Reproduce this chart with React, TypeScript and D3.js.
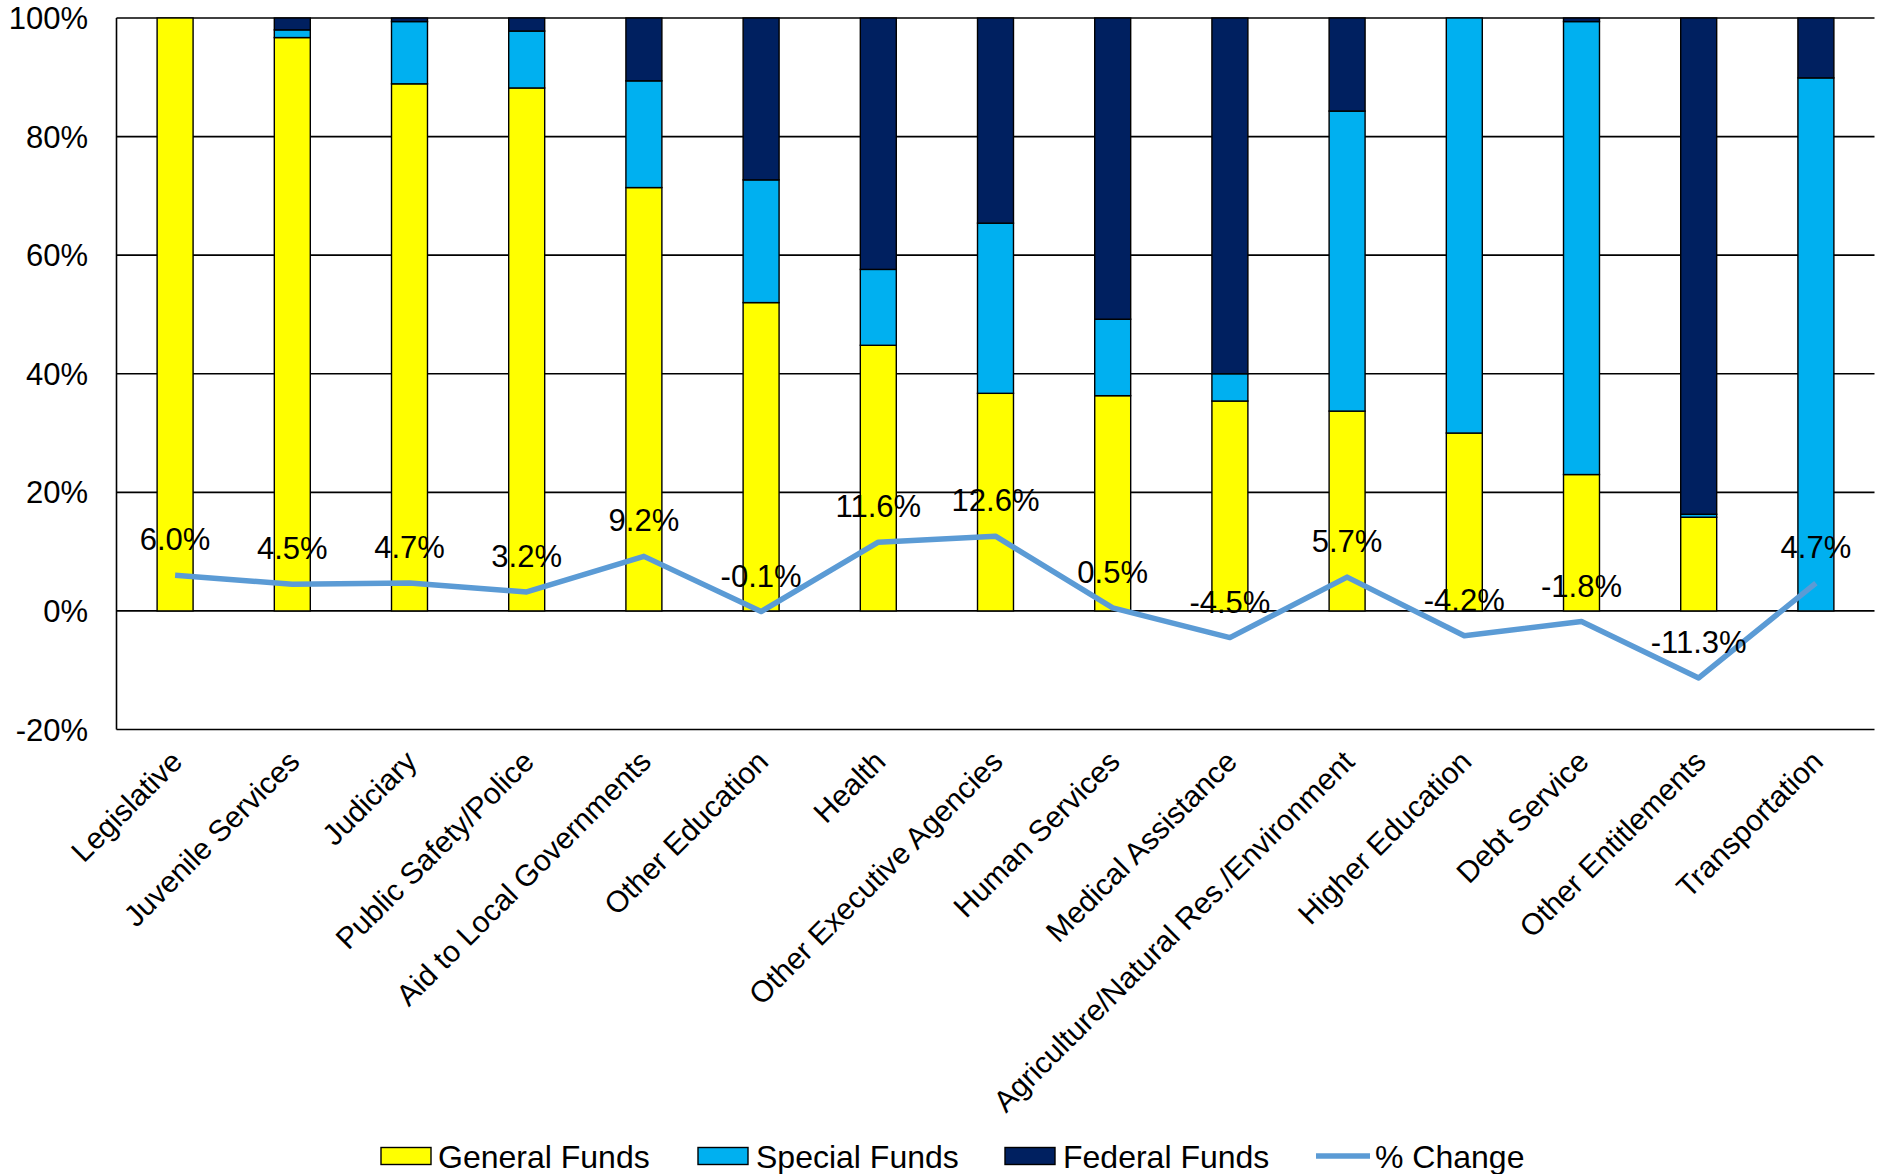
import React from "react";
import * as d3 from "d3";

const categories = [
  "Legislative",
  "Juvenile Services",
  "Judiciary",
  "Public Safety/Police",
  "Aid to Local Governments",
  "Other Education",
  "Health",
  "Other Executive Agencies",
  "Human Services",
  "Medical Assistance",
  "Agriculture/Natural Res./Environment",
  "Higher Education",
  "Debt Service",
  "Other Entitlements",
  "Transportation",
];
const generalFunds = [100, 96.7, 88.9, 88.2, 71.4, 52.0, 44.8, 36.7, 36.3, 35.4, 33.7, 30.0, 23.0, 15.8, 0];
const specialFunds = [0, 1.3, 10.5, 9.6, 18.0, 20.7, 12.8, 28.7, 12.9, 4.6, 50.6, 70.0, 76.4, 0.5, 89.9];
const federalFunds = [0, 2.0, 0.6, 2.2, 10.6, 27.3, 42.4, 34.6, 50.8, 60.0, 15.7, 0, 0.6, 83.7, 10.1];
const pctChange = [6.0, 4.5, 4.7, 3.2, 9.2, -0.1, 11.6, 12.6, 0.5, -4.5, 5.7, -4.2, -1.8, -11.3, 4.7];
const yTicks = [-20, 0, 20, 40, 60, 80, 100];

const seriesKeys = ["general", "special", "federal"];
const seriesNames = ["General Funds", "Special Funds", "Federal Funds"];
const seriesColors = ["#FFFF00", "#00B0F0", "#002060"];
const lineColor = "#5B9BD5";
const FONT = "'Liberation Sans', Arial, sans-serif";

export default function App() {
  const W = 1883;
  const H = 1174;
  const left = 116.5;
  const right = 1874.5;
  const top = 18;
  const bottom = 729.5;

  const x = d3
    .scaleBand<string>()
    .domain(categories)
    .range([left, right])
    .paddingInner(0.693)
    .paddingOuter(0.3465);
  const y = d3.scaleLinear().domain([-20, 100]).range([bottom, top]);

  const rows = categories.map((c, i) => ({
    cat: c,
    general: generalFunds[i],
    special: specialFunds[i],
    federal: federalFunds[i],
  }));
  const stacked = d3.stack<any>().keys(seriesKeys)(rows);

  const cx = (c: string) => (x(c) as number) + x.bandwidth() / 2;
  const line = d3
    .line<number>()
    .x((_, i) => cx(categories[i]))
    .y((d) => y(d));

  const legendItems = [
    { type: "rect", color: seriesColors[0], label: seriesNames[0], sx: 381, tx: 438 },
    { type: "rect", color: seriesColors[1], label: seriesNames[1], sx: 698, tx: 756 },
    { type: "rect", color: seriesColors[2], label: seriesNames[2], sx: 1005, tx: 1063 },
    { type: "line", color: lineColor, label: "% Change", sx: 1316, tx: 1375 },
  ];

  return (
    <svg
      width={W}
      height={H}
      style={{ position: "absolute", left: 0, top: 0, background: "#fff" }}
      fontFamily={FONT}
    >
      <rect x={0} y={0} width={W} height={H} fill="#fff" />
      {/* gridlines */}
      {yTicks.map((t) => (
        <line
          key={"g" + t}
          x1={left}
          x2={right}
          y1={y(t)}
          y2={y(t)}
          stroke="#000"
          strokeWidth={1.6}
        />
      ))}
      <line x1={left} x2={left} y1={top} y2={bottom} stroke="#000" strokeWidth={1.6} />
      {/* y tick labels */}
      {yTicks.map((t) => (
        <text
          key={"t" + t}
          x={88}
          y={y(t)}
          dy="0.36em"
          textAnchor="end"
          fontSize={31}
          fill="#000"
        >
          {t + "%"}
        </text>
      ))}
      {/* bars */}
      {stacked.map((s, si) => (
        <g key={s.key} fill={seriesColors[si]}>
          {s.map((d: any, i: number) =>
            d[1] - d[0] > 0 ? (
              <rect
                key={i}
                x={x(categories[i])}
                width={x.bandwidth()}
                y={y(d[1])}
                height={y(d[0]) - y(d[1])}
                stroke="#000"
                strokeWidth={1.4}
              />
            ) : null
          )}
        </g>
      ))}
      {/* line */}
      <path
        d={line(pctChange) || ""}
        fill="none"
        stroke={lineColor}
        strokeWidth={5.5}
        strokeLinejoin="round"
      />
      {/* data labels */}
      {pctChange.map((v, i) => (
        <text
          key={"d" + i}
          x={cx(categories[i])}
          y={y(v) - 25}
          textAnchor="middle"
          fontSize={31}
          fill="#000"
        >
          {v.toFixed(1) + "%"}
        </text>
      ))}
      {/* x labels */}
      {categories.map((c) => {
        const px = cx(c) + 9;
        const py = bottom + 34;
        return (
          <text
            key={"x" + c}
            x={px}
            y={py}
            textAnchor="end"
            fontSize={30}
            fill="#000"
            transform={`rotate(-45, ${px}, ${py})`}
          >
            {c}
          </text>
        );
      })}
      {/* legend */}
      {legendItems.map((it) => (
        <g key={it.label}>
          {it.type === "rect" ? (
            <rect x={it.sx} y={1147.5} width={50} height={17} fill={it.color} stroke="#000" strokeWidth={1.4} />
          ) : (
            <line x1={it.sx} x2={it.sx + 54} y1={1156} y2={1156} stroke={it.color} strokeWidth={5.5} />
          )}
          <text x={it.tx} y={1156} dy="0.36em" fontSize={32} fill="#000">
            {it.label}
          </text>
        </g>
      ))}
    </svg>
  );
}
